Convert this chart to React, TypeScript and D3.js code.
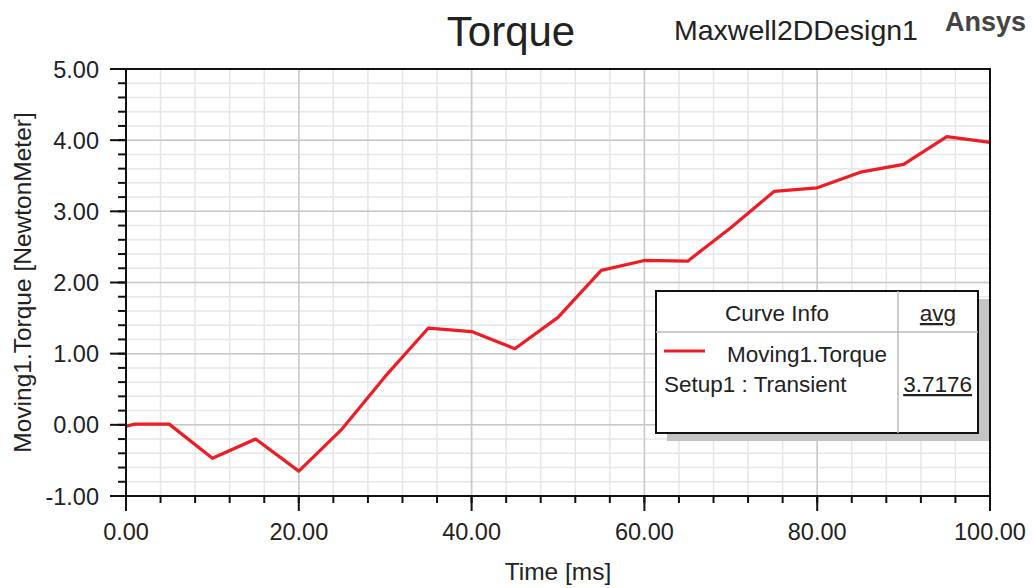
import React from "react";
import * as d3 from "d3";

// sampled torque curve (ms, N·m)
const timeMs = [0, 1, 5, 10, 15, 20, 25, 30, 35, 40, 45, 50, 55, 60, 65, 70, 75, 80, 85, 90, 95, 100];
const torque = [-0.02, 0.01, 0.01, -0.47, -0.2, -0.65, -0.06, 0.68, 1.36, 1.31, 1.07, 1.51, 2.17, 2.31, 2.3, 2.77, 3.28, 3.33, 3.55, 3.66, 4.05, 3.97];

const xMajorTicks = [0, 20, 40, 60, 80, 100];
const yMajorTicks = [-1, 0, 1, 2, 3, 4, 5];

const curveName = "Moving1.Torque";
const setupName = "Setup1 : Transient";
const avgValue = "3.7176";

const W = 1034;
const H = 588;
const margin = { left: 126, right: 44, top: 69, bottom: 92 };
const FONT = "'Liberation Sans', Arial, sans-serif";
const INK = "#222";
const RED = "#ee1c25";

export default function App() {
  const x = d3.scaleLinear().domain([0, 100]).range([margin.left, W - margin.right]);
  const y = d3.scaleLinear().domain([-1, 5]).range([H - margin.bottom, margin.top]);

  const xMinor = d3.range(0, 100.001, 4);
  const yMinor = d3.range(-1, 5.001, 0.2);

  const pts = timeMs.map((t, i) => [t, torque[i]] as [number, number]);
  const line = d3.line<[number, number]>().x(d => x(d[0])).y(d => y(d[1]));

  const [x0, x1] = x.range();
  const [yb, yt] = y.range();

  // legend box
  const lg = { x: 656, y: 291, w: 322, h: 142, split: 898, head: 332 };

  return (
    <svg width={W} height={H} style={{ position: "absolute", left: 0, top: 0, background: "#fff" }} fontFamily={FONT}>
      {/* minor grid */}
      {xMinor.map(t => (
        <line key={"gx" + t} x1={x(t)} x2={x(t)} y1={yt} y2={yb} stroke="#e6e6e6" strokeWidth={1.5} />
      ))}
      {yMinor.map(v => (
        <line key={"gy" + v.toFixed(1)} x1={x0} x2={x1} y1={y(v)} y2={y(v)} stroke="#e6e6e6" strokeWidth={1.5} />
      ))}
      {/* major grid */}
      {xMajorTicks.map(t => (
        <line key={"GX" + t} x1={x(t)} x2={x(t)} y1={yt} y2={yb} stroke="#c8c8c8" strokeWidth={1.5} />
      ))}
      {yMajorTicks.map(v => (
        <line key={"GY" + v} x1={x0} x2={x1} y1={y(v)} y2={y(v)} stroke="#c8c8c8" strokeWidth={1.5} />
      ))}

      {/* curve */}
      <path d={line(pts) || ""} fill="none" stroke={RED} strokeWidth={3.2} strokeLinejoin="round" />

      {/* frame */}
      <rect x={x0} y={yt} width={x1 - x0} height={yb - yt} fill="none" stroke="#111" strokeWidth={2} />

      {/* y ticks */}
      {yMinor.map(v => (
        <line key={"ty" + v.toFixed(1)} x1={x0 - 8} x2={x0} y1={y(v)} y2={y(v)} stroke="#111" strokeWidth={2} />
      ))}
      {yMajorTicks.map(v => (
        <g key={"TY" + v}>
          <line x1={x0 - 16} x2={x0} y1={y(v)} y2={y(v)} stroke="#111" strokeWidth={2} />
          <text x={x0 - 27} y={y(v) + 8.5} textAnchor="end" fontSize={23.5} fill={INK}>
            {v.toFixed(2)}
          </text>
        </g>
      ))}

      {/* x ticks */}
      {xMinor.map(t => (
        <line key={"tx" + t} x1={x(t)} x2={x(t)} y1={yb} y2={yb + 7} stroke="#111" strokeWidth={2} />
      ))}
      {xMajorTicks.map(t => (
        <g key={"TX" + t}>
          <line x1={x(t)} x2={x(t)} y1={yb} y2={yb + 15} stroke="#111" strokeWidth={2} />
          <text x={x(t)} y={yb + 44} textAnchor="middle" fontSize={23.5} fill={INK}>
            {t.toFixed(2)}
          </text>
        </g>
      ))}

      {/* axis titles */}
      <text x={(x0 + x1) / 2} y={580} textAnchor="middle" fontSize={24.5} fill={INK}>
        Time [ms]
      </text>
      <text
        transform={`translate(31, ${(yt + yb) / 2}) rotate(-90)`}
        textAnchor="middle"
        fontSize={24.5}
        fill={INK}
      >
        Moving1.Torque [NewtonMeter]
      </text>

      {/* header */}
      <text x={511} y={46} textAnchor="middle" fontSize={42} fill={INK}>
        Torque
      </text>
      <text x={674} y={40} fontSize={28.5} fill={INK}>
        Maxwell2DDesign1
      </text>
      <text x={945} y={31} fontSize={27} fontWeight="bold" fill="#444">
        Ansys
      </text>

      {/* legend */}
      <rect x={lg.x + 11} y={lg.y + 8} width={lg.w} height={lg.h} fill="#c4c4c4" />
      <rect x={lg.x} y={lg.y} width={lg.w} height={lg.h} fill="#fff" stroke="#111" strokeWidth={2} />
      <line x1={lg.x} x2={lg.x + lg.w} y1={lg.head} y2={lg.head} stroke="#bbb" strokeWidth={1.5} />
      <line x1={lg.split} x2={lg.split} y1={lg.y} y2={lg.y + lg.h} stroke="#bbb" strokeWidth={1.5} />
      <text x={(lg.x + lg.split) / 2} y={321} textAnchor="middle" fontSize={22.5} fill={INK}>
        Curve Info
      </text>
      <text x={(lg.split + lg.x + lg.w) / 2} y={321} textAnchor="middle" fontSize={22.5} fill={INK} textDecoration="underline">
        avg
      </text>
      <line x1={664} x2={705} y1={351} y2={351} stroke={RED} strokeWidth={3} />
      <text x={727} y={362} fontSize={22.5} fill={INK}>
        {curveName}
      </text>
      <text x={664} y={392} fontSize={22.5} fill={INK}>
        {setupName}
      </text>
      <text x={972} y={392} textAnchor="end" fontSize={22.5} fill={INK} textDecoration="underline">
        {avgValue}
      </text>
    </svg>
  );
}
